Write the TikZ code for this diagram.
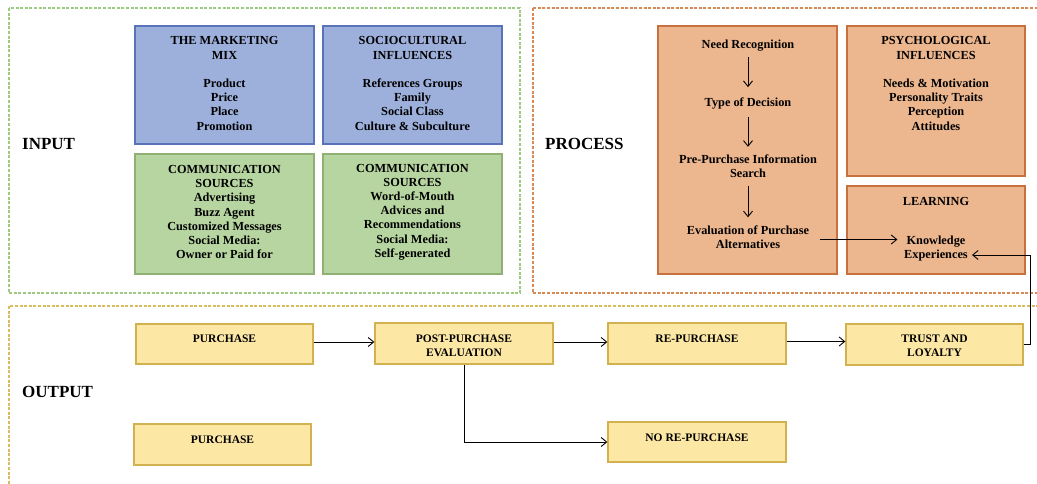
\documentclass[tikz,border=0pt]{standalone}
\usepackage{fontspec}
\setmainfont{Liberation Serif}
\usetikzlibrary{arrows.meta,calc}
\definecolor{bluefill}{HTML}{9DB0DB}
\definecolor{blueline}{HTML}{5873B8}
\definecolor{greenfill}{HTML}{B7D5A0}
\definecolor{greenline}{HTML}{8FB072}
\definecolor{orangefill}{HTML}{ECB68E}
\definecolor{orangeline}{HTML}{C8703E}
\definecolor{yellowfill}{HTML}{FCE7A5}
\definecolor{yellowline}{HTML}{D2B150}
\definecolor{gdash}{HTML}{9CCB80}
\definecolor{odash}{HTML}{D88A55}
\definecolor{ydash}{HTML}{D9BC60}
\tikzset{
  frame/.style={line width=1.1pt, dash pattern=on 3pt off 1.6pt},
  boxbase/.style={rectangle, line width=1.3pt, inner sep=0pt},
  bluebox/.style={boxbase, fill=bluefill, draw=blueline},
  greenbox/.style={boxbase, fill=greenfill, draw=greenline},
  orangebox/.style={boxbase, fill=orangefill, draw=orangeline},
  yellowbox/.style={boxbase, fill=yellowfill, draw=yellowline},
  txt/.style={inner sep=0pt, align=center, font=\bfseries\fontsize{12.3}{14.2}\selectfont},
  btxt/.style={inner sep=0pt, align=center, font=\bfseries\fontsize{11.5}{14}\selectfont},
  biglabel/.style={inner sep=0pt, anchor=west, font=\bfseries\fontsize{17}{20}\selectfont},
  arr/.style={line width=0.9pt, -{Straight Barb[length=5.5pt,width=9pt,line width=0.9pt]}}
}
\begin{document}
\begin{tikzpicture}[x=1pt,y=-1pt]
\useasboundingbox (0,0) rectangle (1037,484);
\fill[white] (0,0) rectangle (1037,484);
% frames
\draw[frame, draw=gdash] (9,8) rectangle (520,293);
\draw[frame, draw=odash] (533,8) rectangle (1050,293);
\draw[frame, draw=ydash] (9,306) rectangle (1050,500);
% labels
\node[biglabel] (input) at (22,144) {INPUT};
\node[biglabel] (process) at (545,144) {PROCESS};
\node[biglabel] (output) at (22,392) {OUTPUT};
% input boxes
\node[bluebox, minimum width=179pt, minimum height=118pt] (mmbox) at (224.5,85) {};
\node[txt] (mm) at (224.5,83.5) {THE MARKETING\\MIX\\[14.2pt]Product\\Price\\Place\\Promotion};
\node[bluebox, minimum width=179pt, minimum height=118pt] (scbox) at (412.5,85) {};
\node[txt] (sc) at (412.5,83.5) {SOCIOCULTURAL\\INFLUENCES\\[14.2pt]References Groups\\Family\\Social Class\\Culture \& Subculture};
\node[greenbox, minimum width=179pt, minimum height=120pt] (cs1box) at (224.5,214) {};
\node[txt] (cs1) at (224.5,212) {COMMUNICATION\\SOURCES\\Advertising\\Buzz Agent\\Customized Messages\\Social Media:\\Owner or Paid for};
\node[greenbox, minimum width=179pt, minimum height=120pt] (cs2box) at (412.5,214) {};
\node[txt] (cs2) at (412.5,212) {COMMUNICATION\\SOURCES\\Word-of-Mouth\\Advices and\\Recommendations\\Social Media:\\Self-generated};
% process boxes
\node[orangebox, minimum width=179pt, minimum height=248pt] (procbox) at (747.5,150) {};
\node[txt] (need) at (748,46) {Need Recognition};
\node[txt] (type) at (748,103) {Type of Decision};
\node[txt] (pre) at (748,166.5) {Pre-Purchase Information\\Search};
\node[txt] (eval) at (748,237) {Evaluation of Purchase\\Alternatives};
\draw[arr, shorten <=5pt, shorten >=10pt] (need) -- (type);
\draw[arr, shorten <=8pt, shorten >=8pt] (type) -- (pre);
\draw[arr, shorten <=8pt, shorten >=8pt] (pre) -- (eval);
\node[orangebox, minimum width=178pt, minimum height=150pt] (psybox) at (936,101) {};
\node[txt] (psy) at (936,83.5) {PSYCHOLOGICAL\\INFLUENCES\\[14.2pt]Needs \& Motivation\\Personality Traits\\Perception\\Attitudes};
\node[orangebox, minimum width=178pt, minimum height=88pt] (learnbox) at (936,230) {};
\node[txt] (learn) at (936,201) {LEARNING};
\node[txt] (know) at (936,242) {Knowledge};
\node[txt] (exper) at (936,256) {Experiences};
\draw[arr] ($(eval.east |- know.west)+(11,-2.5)$) -- ($(know.west)+(-9,-2.5)$);
% output boxes
\node[yellowbox, minimum width=177pt, minimum height=40pt] (p1) at (224.5,344) {};
\node[btxt] (p1t) at (224.5,338.5) {PURCHASE};
\node[yellowbox, minimum width=178pt, minimum height=41pt] (post) at (464,343.5) {};
\node[btxt] (postt) at (464,345.5) {POST-PURCHASE\\EVALUATION};
\node[yellowbox, minimum width=178pt, minimum height=41pt] (rep) at (697,343.5) {};
\node[btxt] (rept) at (697,338.5) {RE-PURCHASE};
\node[yellowbox, minimum width=177pt, minimum height=41pt] (trust) at (934.5,344.5) {};
\node[btxt] (trustt) at (934.5,345.5) {TRUST AND\\LOYALTY};
\node[yellowbox, minimum width=177pt, minimum height=41pt] (p2) at (222.5,444.5) {};
\node[btxt] (p2t) at (222.5,439.5) {PURCHASE};
\node[yellowbox, minimum width=178pt, minimum height=40pt] (norep) at (697,442) {};
\node[btxt] (norept) at (697,437.5) {NO RE-PURCHASE};
% output connectors
\draw[arr] ($(p1.east)+(0,-2)$) -- ($(p1.east -| post.west)+(0,-2)$);
\draw[arr] ($(post.east)+(0,-1.5)$) -- ($(post.east -| rep.west)+(0,-1.5)$);
\draw[arr] ($(rep.east)+(0,-2)$) -- ($(rep.east -| trust.west)+(0,-2)$);
\draw[arr] (post.south) |- (norep.west);
\draw[arr, shorten >=4pt] (trust.east) -- ++(7,0) |- ($(exper.east)+(0,-1)$);
\end{tikzpicture}
\end{document}
